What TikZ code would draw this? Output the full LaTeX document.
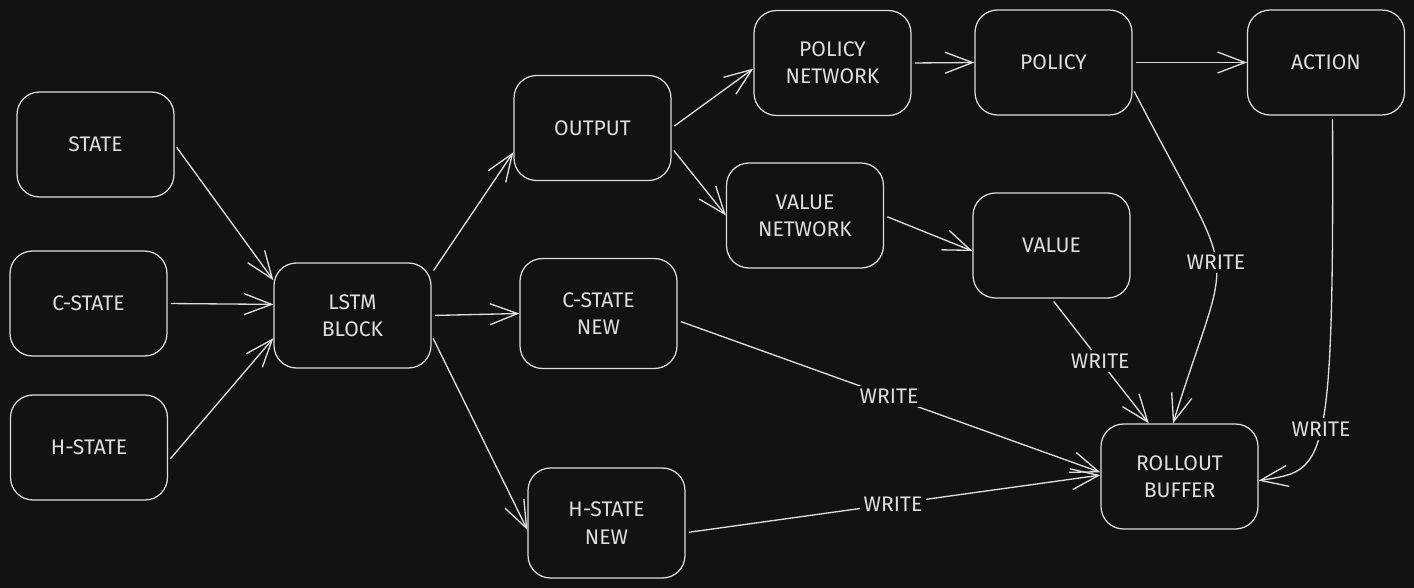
\documentclass[tikz,border=0pt]{standalone}
\usepackage{fontspec}
\setmainfont{Fira Sans}
\usetikzlibrary{arrows.meta}
\definecolor{bg}{HTML}{121212}
\definecolor{ink}{HTML}{DEDEDE}

\begin{document}
\begin{tikzpicture}
[
x=0.02cm, y=-0.02cm,
box/.style={draw=ink, rounded corners=0.45cm, minimum width=3.14cm, minimum height=2.1cm, align=center, text=ink, font=\fontsize{12}{15.5}\selectfont, line width=0.7pt},
flow/.style={draw=ink, line width=0.75pt, -{Straight Barb[length=5.5mm,width=4.2mm]}, shorten <=2pt},
lbl/.style={fill=bg, text=ink, inner sep=2pt, font=\fontsize{12}{14}\selectfont}
]

\fill[bg] (0,0) rectangle (1414,588);

% inputs
\node[box] (state)  at (95.5,144.5) {STATE};
\node[box] (cstate) at (88.5,303.5) {C-STATE};
\node[box] (hstate) at (89,447.5)   {H-STATE};

\node[box] (lstm) at (352.5,315.5) {LSTM\\BLOCK};

% lstm outputs
\node[box] (output) at (592.5,128) {OUTPUT};
\node[box, minimum height=2.2cm] (cnew) at (598.5,313.5) {C-STATE\\NEW};
\node[box, minimum height=2.2cm] (hnew) at (606.5,523)   {H-STATE\\NEW};

% heads
\node[box] (polnet) at (832.5,63)  {POLICY\\NETWORK};
\node[box] (valnet) at (805,215.5) {VALUE\\NETWORK};
\node[box] (policy) at (1053.5,62.5) {POLICY};
\node[box] (value)  at (1051.5,245.5) {VALUE};
\node[box] (action) at (1326,62.5) {ACTION};

\node[box] (buffer) at (1179.5,476.5) {ROLLOUT\\BUFFER};

\draw[flow] (state.east) -- (lstm.156);
\draw[flow] (cstate.east) -- (lstm.172);
\draw[flow] (hstate.-10) -- (lstm.-164);

\draw[flow] (lstm.28) -- (output.-163);
\draw[flow] (lstm.east) -- (cnew.west);
\draw[flow] (lstm.-14) -- (hnew.185);

\draw[flow] (output.east) -- (polnet.184);
\draw[flow] (output.-14) -- (valnet.west);
\draw[flow] (polnet.east) -- (policy.west);
\draw[flow] (valnet.east) -- (value.184);
\draw[flow] (policy.east) -- (action.west);

% writes into the buffer
\draw[flow] (policy.-18) .. controls (1241,298) and (1233,231) .. node[lbl, pos=0.5] {WRITE} (buffer.97);
\draw[flow] (value.south) -- node[lbl] {WRITE} (buffer.120);
\draw[flow] (action.-83) .. controls (1334,475) and (1325,470) .. node[lbl, pos=0.5] {WRITE} (buffer.-3);
\draw[flow] (cnew.-5) -- node[lbl] {WRITE} (buffer.177);
\draw[flow] (hnew.-7) -- node[lbl] {WRITE} (buffer.179);
\end{tikzpicture}
\end{document}
